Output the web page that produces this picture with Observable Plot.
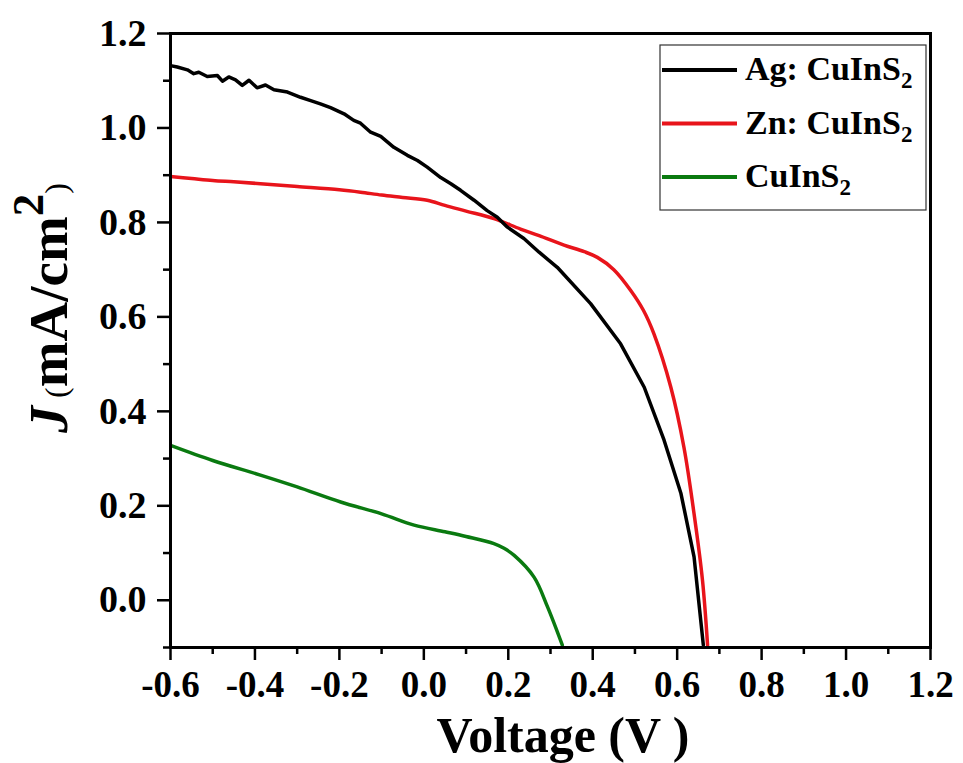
<!DOCTYPE html>
<html>
<head>
<meta charset="utf-8">
<script src="https://cdn.jsdelivr.net/npm/d3@7"></script>
<script src="https://cdn.jsdelivr.net/npm/@observablehq/plot@0.6"></script>
<style>
  html, body { margin: 0; padding: 0; background: #fff; }
  #chart { position: relative; width: 963px; height: 763px; }
  svg { display: block; }
</style>
</head>
<body>
<div id="chart"></div>
<script>
// ---- data ----
const seriesNames = ["Ag: CuInS", "Zn: CuInS", "CuInS"];
const seriesColors = ["#000000", "#e8141b", "#0a7a10"];

const agV = [-0.600,-0.584,-0.560,-0.545,-0.533,-0.513,-0.489,-0.477,-0.462,-0.446,-0.430,-0.414,-0.395,-0.375,-0.355,-0.323,-0.292,-0.268,-0.245,-0.221,-0.189,-0.166,-0.150,-0.126,-0.102,-0.071,-0.039,-0.015,0.008,0.040,0.064,0.087,0.119,0.150,0.174,0.198,0.237,0.273,0.316,0.395,0.466,0.522,0.569,0.609,0.640,0.662];
const agJ = [1.132,1.129,1.123,1.115,1.118,1.109,1.111,1.099,1.108,1.102,1.090,1.101,1.085,1.091,1.081,1.076,1.065,1.058,1.051,1.043,1.030,1.016,1.010,0.991,0.982,0.959,0.942,0.931,0.917,0.895,0.882,0.868,0.847,0.825,0.811,0.790,0.766,0.737,0.705,0.628,0.543,0.451,0.339,0.226,0.092,-0.095];

const znV = [-0.600,-0.550,-0.500,-0.450,-0.387,-0.300,-0.200,-0.150,-0.100,-0.050,0.008,0.050,0.100,0.166,0.229,0.273,0.332,0.380,0.411,0.450,0.490,0.520,0.545,0.585,0.616,0.640,0.660,0.672];
const znJ = [0.897,0.893,0.889,0.886,0.882,0.876,0.869,0.864,0.858,0.853,0.847,0.836,0.824,0.808,0.786,0.772,0.752,0.738,0.726,0.700,0.656,0.614,0.564,0.451,0.324,0.183,0.042,-0.095];

const cisV = [-0.600,-0.500,-0.387,-0.300,-0.197,-0.100,-0.023,0.050,0.100,0.166,0.190,0.214,0.261,0.293,0.328];
const cisJ = [0.328,0.296,0.265,0.240,0.208,0.183,0.159,0.145,0.135,0.120,0.110,0.095,0.049,-0.014,-0.095];

const xMajor = [-0.6,-0.4,-0.2,0.0,0.2,0.4,0.6,0.8,1.0,1.2];
const xMinor = [-0.5,-0.3,-0.1,0.1,0.3,0.5,0.7,0.9,1.1];
const yMajor = [0.0,0.2,0.4,0.6,0.8,1.0,1.2];
const yMinor = [-0.1,0.1,0.3,0.5,0.7,0.9,1.1];

const xLabel = "Voltage (V )";

// ---- build table ----
const rows = [];
[[agV, agJ], [znV, znJ], [cisV, cisJ]].forEach(([vs, js], i) => {
  vs.forEach((v, k) => rows.push({V: v, J: js[k], k: i}));
});

const FONT = "'Liberation Serif', 'Times New Roman', serif";
const W = 963, H = 763;
const mL = 170, mR = 33, mT = 33, mB = 116;

const plot = Plot.plot({
  width: W, height: H,
  marginLeft: mL, marginRight: mR, marginTop: mT, marginBottom: mB,
  style: {fontFamily: FONT, background: "#fff", overflow: "visible"},
  x: {domain: [-0.6, 1.2]},
  y: {domain: [-0.1, 1.2]},
  marks: [
    Plot.line(rows.filter(d => d.k === 2), {x: "V", y: "J", stroke: seriesColors[2], strokeWidth: 3.5, curve: "catmull-rom", clip: true}),
    Plot.line(rows.filter(d => d.k === 1), {x: "V", y: "J", stroke: seriesColors[1], strokeWidth: 3.5, curve: "catmull-rom", clip: true}),
    Plot.line(rows.filter(d => d.k === 0), {x: "V", y: "J", stroke: seriesColors[0], strokeWidth: 3.5, curve: "linear", clip: true}),
    Plot.axisX(xMajor, {tickSize: 13, tickPadding: 10, strokeWidth: 2.5, tickFormat: d => d.toFixed(1), fontSize: 37, fontWeight: "bold", fill: "black", label: null}),
    Plot.axisX(xMinor, {tickSize: 7, strokeWidth: 2.5, tickFormat: () => "", label: null}),
    Plot.axisY(yMajor, {tickSize: 13, tickPadding: 11, strokeWidth: 2.5, tickFormat: d => d.toFixed(1), fontSize: 38, fontWeight: "bold", fill: "black", label: null}),
    Plot.axisY(yMinor, {tickSize: 7, strokeWidth: 2.5, tickFormat: () => "", label: null}),
    Plot.frame({stroke: "black", strokeWidth: 3})
  ]
});

document.getElementById("chart").appendChild(plot);
const svg = d3.select(plot);

// x-axis label
svg.append("text")
  .attr("x", 563).attr("y", 752)
  .attr("text-anchor", "middle")
  .style("font-family", FONT).style("font-weight", "bold").style("font-size", "50px")
  .attr("fill", "black")
  .text(xLabel);

// y-axis label: J (mA/cm2)
const yl = svg.append("text")
  .attr("transform", "translate(67,433) rotate(-90)")
  .attr("text-anchor", "start")
  .style("font-family", FONT).attr("fill", "black");
yl.append("tspan").style("font-style", "italic").style("font-weight", "bold").style("font-size", "54px").text("J");
yl.append("tspan").style("font-size", "32px").attr("dx", 8).text("(");
yl.append("tspan").style("font-weight", "bold").style("font-size", "55px").text("mA/cm");
yl.append("tspan").style("font-weight", "bold").style("font-size", "45px").attr("dy", -24).text("2");
yl.append("tspan").style("font-size", "32px").attr("dy", 24).text(")");

// legend
const lg = svg.append("g");
lg.append("rect").attr("x", 660).attr("y", 45).attr("width", 266).attr("height", 165)
  .attr("fill", "white").attr("stroke", "#333").attr("stroke-width", 1.2);
seriesNames.forEach((name, i) => {
  const cy = 70 + i * 53.5;
  lg.append("line").attr("x1", 662).attr("x2", 737).attr("y1", cy).attr("y2", cy)
    .attr("stroke", seriesColors[i]).attr("stroke-width", 4);
  const t = lg.append("text").attr("x", 745).attr("y", cy + 10)
    .attr("text-anchor", "start")
    .style("font-family", FONT).style("font-weight", "bold").style("font-size", "34px").attr("fill", "black");
  t.append("tspan").text(name);
  t.append("tspan").style("font-size", "23px").attr("dy", 8).text("2");
});
</script>
</body>
</html>
